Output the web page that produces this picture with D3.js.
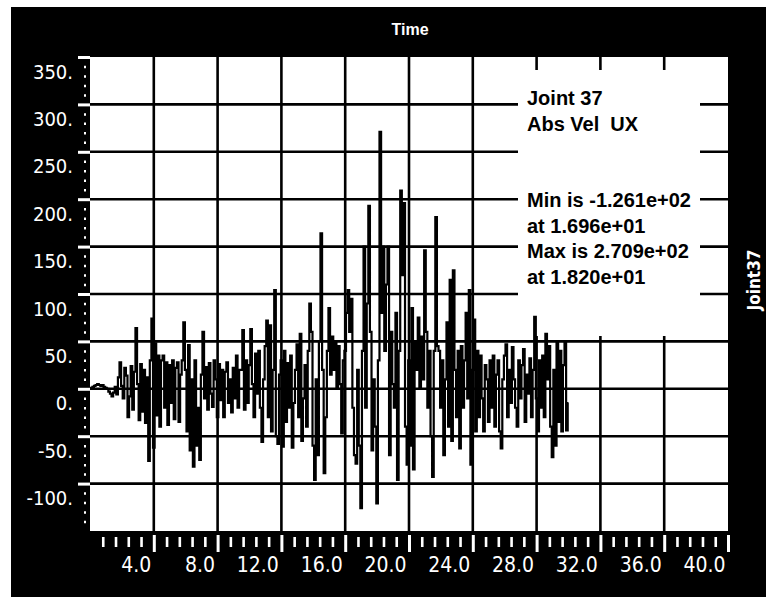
<!DOCTYPE html>
<html>
<head>
<meta charset="utf-8">
<script src="https://cdn.jsdelivr.net/npm/d3@7"></script>
<style>
	html, body { margin: 0; padding: 0; background: #fff; }
	svg { display: block; }
	.note { font-family: "Liberation Sans", Arial, sans-serif; font-weight: bold; font-size: 20px; fill: #000; white-space: pre; }
</style>
</head>
<body>
<div id="chart"></div>
<script>
const sampleStep = 0.1;
const seg00 = [0, 1, 2, 3, 4, 5, 4, 3, 4, 2, 1, 0, -3, -5, -8, -4, 2, -6, 12, 28,
	3, -10, 22, 14, -30, -8, 24, -22, 18, 64, 5, -33, 26, -24, 20, -36, 12, -76, 30, 74,
	-62, 48, -28, 35, -40, 30, 35, -20, 28, -38];
const seg05 = [25, -15, 30, -32, 22, 28, -35, 15, 30, 70, 20, -45, 46, -65, 10, -82, 30, -60, -20, -75,
	15, 60, -10, 23, -22, 27, -5, -19, 30, 10, -30, 26, -12, 20, -30, 18, 28, -15, 10, -25,
	22, -10, 35, -20, 20, 20, 62, -22, 30, -15];
const seg10 = [25, 63, 5, -30, 37, -5, 40, -20, -56, 10, 45, 72, -30, 67, -45, 20, 104, -50, -58, 15,
	30, -61, 40, -35, 27, -20, 35, -62, -15, 20, 47, -30, 58, -55, -10, 25, -40, 40, 90, 60,
	-60, -96, 10, -70, 50, 164, 20, -89, -30, 40];
const seg15 = [85, 15, 55, 20, 50, 0, 45, 5, -47, 30, 40, 80, 104, 60, 95, -20, -70, -79, 20, -60,
	-126, 40, 150, -20, 90, 193, 60, -65, 10, -40, -121, 30, 271, 80, 150, 40, 110, 150, -70, 60,
	5, -20, 80, -96, 40, 209, 120, 196, -40, -80];
const seg20 = [30, -60, 85, -85, 50, 20, 75, 0, 55, 10, 146, 60, -20, 40, -50, -93, 40, 181, 45, 40,
	-20, 30, -70, 10, 70, -40, 115, -55, 125, 20, -30, 40, -63, 45, -20, 30, 80, -10, 104, -80,
	20, 73, -45, 40, -30, 35, -10, -45, 25, 10];
const seg25 = [-35, 30, -20, 35, -40, 15, 30, -45, -63, 10, 35, 47, -30, 20, -15, 44, 10, -20, -40, 30,
	-10, 25, 42, -35, 15, -5, 32, -30, 20, 76, -10, -45, 30, -20, 35, -30, 58, 10, 45, -40,
	-72, 20, -60, 50, -35, 40, -45, 25, 50, -44, -15];
const segStarts = [0, 5, 10, 15, 20, 25];
const segValues = [seg00, seg05, seg10, seg15, seg20, seg25];

const yTickVals = [350, 300, 250, 200, 150, 100, 50, 0, -50, -100];
const yTickLabels = ["350.", "300.", "250.", "200.", "150.", "100.", "50.", "0.", "-50.", "-100."];
const xTickVals = [4, 8, 12, 16, 20, 24, 28, 32, 36, 40];
const xTickLabels = ["4.0", "8.0", "12.0", "16.0", "20.0", "24.0", "28.0", "32.0", "36.0", "40.0"];
const noteLines = ["Joint 37", "Abs Vel  UX", "", "", "Min is -1.261e+02", "at 1.696e+01", "Max is 2.709e+02", "at 1.820e+01"];
const topTitle = "Time";
const sideTitle = "Joint37";

const series = [];
segStarts.forEach((t0, s) => {
	segValues[s].forEach((v, i) => series.push({ t: +(t0 + i * sampleStep).toFixed(1), v: v }));
});

const width = 768, height = 600;
const narrow = '"Liberation Sans Narrow", "DejaVu Sans Condensed", "Liberation Sans", sans-serif';

const svg = d3.select("#chart")
	.append("svg")
	.attr("width", width)
	.attr("height", height);

// black frame
svg.append("rect")
	.attr("x", 11).attr("y", 7)
	.attr("width", 755).attr("height", 590)
	.attr("fill", "#000");

const xScale = d3.scaleLinear().domain([0, 40]).range([90, 728]);
const yScale = d3.scaleLinear().domain([-150, 350]).range([531, 57]);

// plot area
svg.append("rect")
	.attr("x", xScale(0)).attr("y", yScale(350))
	.attr("width", xScale(40) - xScale(0))
	.attr("height", yScale(-150) - yScale(350))
	.attr("fill", "#fff");

// grid lines
svg.append("g")
	.selectAll("line")
	.data(yTickVals.filter(d => d < 350))
	.enter()
	.append("line")
	.attr("x1", xScale(0)).attr("x2", xScale(40))
	.attr("y1", d => yScale(d)).attr("y2", d => yScale(d))
	.attr("stroke", "#000")
	.attr("stroke-width", 2.6);

svg.append("g")
	.selectAll("line")
	.data(xTickVals.filter(d => d < 40))
	.enter()
	.append("line")
	.attr("x1", d => xScale(d)).attr("x2", d => xScale(d))
	.attr("y1", yScale(350)).attr("y2", yScale(-150))
	.attr("stroke", "#000")
	.attr("stroke-width", 2.6);

// annotation box hides the grid behind it
svg.append("rect")
	.attr("x", 518).attr("y", 70)
	.attr("width", 182).attr("height", 266)
	.attr("fill", "#fff");

// signal (drawn as steps, the plotter joins samples with vertical strokes)
const line = d3.line()
	.x(d => xScale(d.t))
	.y(d => yScale(d.v))
	.curve(d3.curveStep);

svg.append("path")
	.datum(series)
	.attr("fill", "none")
	.attr("stroke", "#000")
	.attr("stroke-width", 2.2)
	.attr("stroke-linejoin", "miter")
	.attr("d", line);

// annotation text
svg.append("g")
	.selectAll("text")
	.data(noteLines)
	.enter()
	.append("text")
	.attr("class", "note")
	.attr("x", 527)
	.attr("y", (d, i) => 105 + i * 25.5)
	.text(d => d);

// y axis: major ticks with labels hanging below the tick
const yAxis = svg.append("g")
	.attr("transform", `translate(${xScale(0)},0)`)
	.call(d3.axisLeft(yScale).tickValues(yTickVals).tickSize(12).tickFormat((d, i) => yTickLabels[i]));
yAxis.attr("color", "#fff");
yAxis.select(".domain").remove();
yAxis.selectAll("line").attr("stroke-width", 3);
yAxis.selectAll("text")
	.attr("x", -17)
	.attr("y", 21)
	.attr("dy", null)
	.attr("font-family", narrow)
	.attr("font-size", 20)
	.attr("fill", "#fff");

// y axis minor ticks (dots)
const yMinor = d3.range(-150, 351, 10).filter(d => d % 50 !== 0);
const yAxisMinor = svg.append("g")
	.attr("transform", "translate(86,0)")
	.call(d3.axisLeft(yScale).tickValues(yMinor).tickSize(2).tickFormat(""));
yAxisMinor.attr("color", "#fff");
yAxisMinor.select(".domain").remove();
yAxisMinor.selectAll("line").attr("stroke-width", 2.5);

// x axis: major ticks with labels to the left of the tick
const xAxis = svg.append("g")
	.attr("transform", "translate(0,535)")
	.call(d3.axisBottom(xScale).tickValues(xTickVals).tickSize(17).tickFormat((d, i) => xTickLabels[i]));
xAxis.attr("color", "#fff");
xAxis.select(".domain").remove();
xAxis.selectAll("line").attr("stroke-width", 3);
xAxis.selectAll("text")
	.attr("text-anchor", "end")
	.attr("x", -3)
	.attr("y", 37)
	.attr("dy", null)
	.attr("font-family", narrow)
	.attr("font-size", 21)
	.attr("fill", "#fff");

// x axis minor ticks
const xMinor = d3.range(1, 50).map(d => d * 0.8).filter(d => Math.abs(d / 4 - Math.round(d / 4)) > 0.01);
const xAxisMinor = svg.append("g")
	.attr("transform", "translate(0,537)")
	.call(d3.axisBottom(xScale).tickValues(xMinor).tickSize(10).tickFormat(""));
xAxisMinor.attr("color", "#fff");
xAxisMinor.select(".domain").remove();
xAxisMinor.selectAll("line").attr("stroke-width", 2.6);

// titles
svg.append("text")
	.attr("x", 410).attr("y", 35)
	.attr("text-anchor", "middle")
	.attr("font-family", '"Liberation Sans", Arial, sans-serif')
	.attr("font-weight", "bold")
	.attr("font-size", 16)
	.attr("fill", "#fff")
	.text(topTitle);

svg.append("text")
	.attr("transform", "translate(760,280) rotate(-90)")
	.attr("text-anchor", "middle")
	.attr("font-family", narrow)
	.attr("font-weight", "bold")
	.attr("font-size", 17)
	.attr("fill", "#fff")
	.text(sideTitle);
</script>
</body>
</html>
